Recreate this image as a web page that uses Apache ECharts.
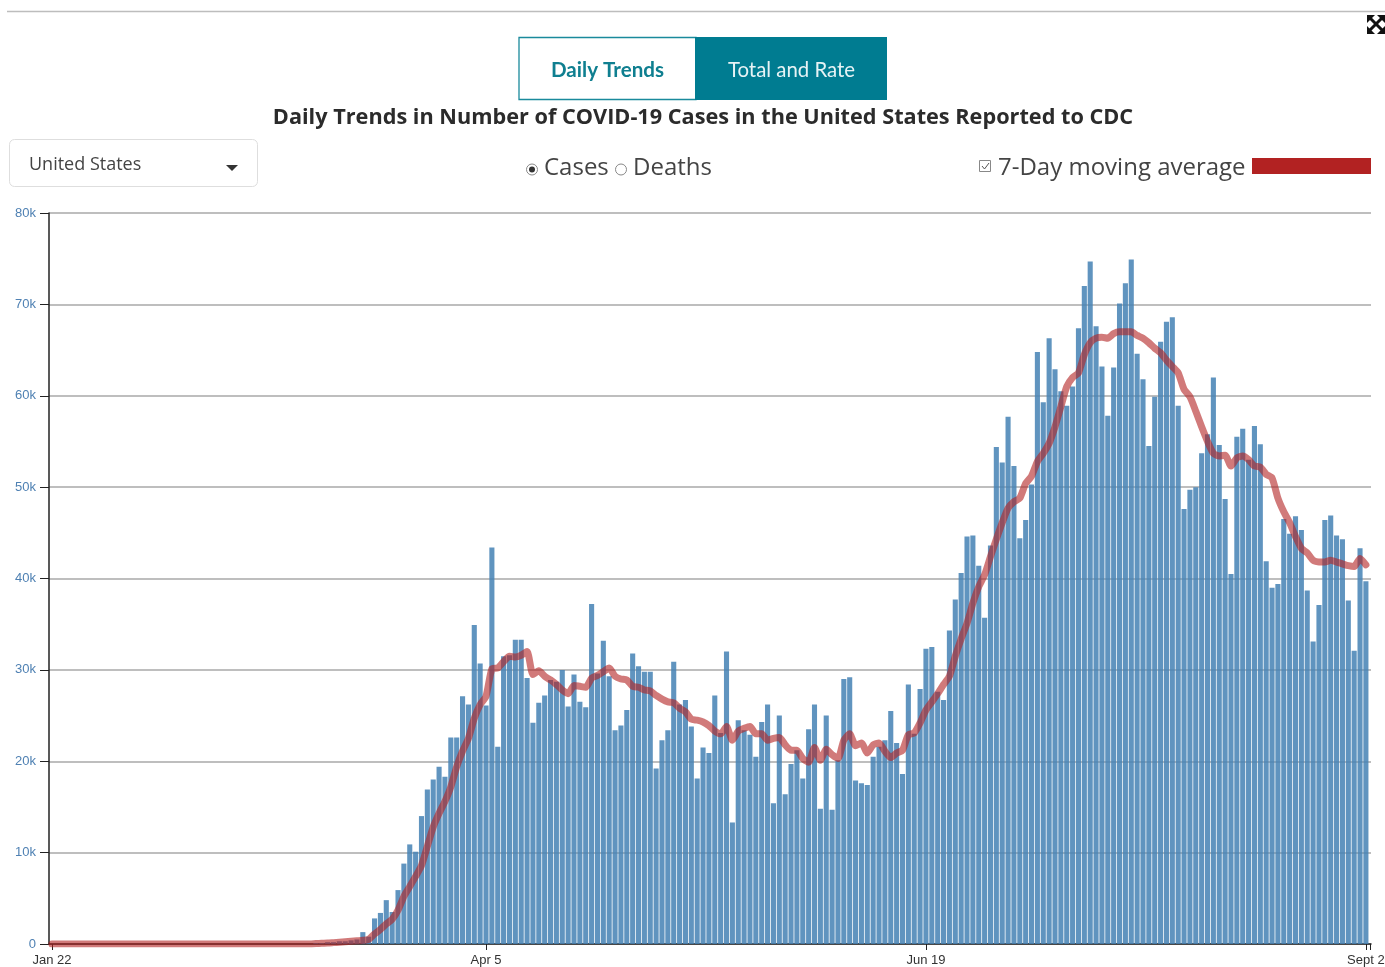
<!DOCTYPE html>
<html>
<head>
<meta charset="utf-8">
<title>Daily Trends in Number of COVID-19 Cases</title>
<style>html,body{margin:0;padding:0;background:#fff;overflow:hidden}#chart{width:1385px;height:967px}</style>
<script src="https://cdn.jsdelivr.net/npm/echarts@6/dist/echarts.min.js"></script>
</head>
<body>
<div id="chart"></div>
<script>
// Daily reported cases in thousands, Jan 22 (index 0) to Sept 2 (index 224)
const dailyEarly = [0,0,0,0,0,0,0,0,0,0, 0,0,0,0,0,0,0,0,0,0, 0,0,0,0,0,0,0,0,0,0, 0,0,0,0,0,0,0,0,0,0, 0,0,0,0,0,
  0.1,0.1,0.2,0.2,0.3,0.3,0.4,0.5];
const dailySpring = [1.3,0.8,2.8,3.4,4.8,3.5,5.9,8.8,10.9,10.1,14.0,16.9,18.0,19.4,18.3,22.6,22.6,27.1,26.2,34.9,
  30.7,26.1,43.4,21.6,31.5,31.6,33.3,33.3,29.1,24.2,26.4,27.2,28.9,28.7,30.0,26.0,29.5,26.5,25.9,37.2,
  29.6,33.2,29.3,23.4,23.9,25.6,31.8,30.4];
const dailyEarlySummer = [29.8,29.8,19.2,22.3,23.4,30.9,26.2,26.7,23.8,18.1,21.5,20.9,27.2,23.1,32.0,13.3,24.5,23.4,22.9,20.5,
  24.3,26.2,15.4,25.0,16.4,19.7,21.2,18.1,23.5,26.2,14.8,25.0,14.7,20.1,29.0,29.2,17.9,17.6,17.4,20.5,
  21.6,22.3,25.5,22.0,18.6,28.4,23.0,27.9,32.3,32.5,27.6,26.7];
const dailyPeak = [34.3,37.7,40.6,44.6,44.7,41.4,35.7,43.6,54.4,52.7,57.7,52.3,44.4,46.4,50.3,64.8,59.3,66.3,62.9,60.5,
  58.9,61.0,67.4,72.0,74.7,67.6,63.2,57.8,63.1,70.1,72.3,74.9];
const dailyLate = [64.6,61.8,54.5,59.9,65.9,68.1,68.6,58.9,47.6,49.7,50.0,53.7,55.8,62.0,54.6,48.7,40.5,55.5,56.4,53.0,
  56.7,54.7,41.9,39.0,39.4,46.5,44.9,46.8,45.3,38.7,33.1,37.1,46.4,46.9,44.7,44.3,37.6,32.1,43.3,39.7];
const dailyCases = [...dailyEarly, ...dailySpring, ...dailyEarlySummer, ...dailyPeak, ...dailyLate];

// 7-day moving average in thousands
const avgEarly = [0,0,0,0,0,0,0,0,0,0, 0,0,0,0,0,0,0,0,0,0, 0,0,0,0,0,0,0,0,0,0, 0,0,0,0,0,0,0,0,0,0, 0,0,0,0,0,
  0.05,0.08,0.1,0.15,0.2,0.25,0.3,0.35];
const avgSpring = [0.4,0.5,1.1,1.6,2.2,2.7,3.7,5.2,6.3,7.4,8.6,10.7,12.8,14.3,15.6,17.2,19.4,21.1,22.5,24.7,
  26.2,27.1,30.1,30.2,30.9,31.5,31.4,31.6,32.0,29.5,29.9,29.3,28.9,28.4,27.8,27.4,28.3,28.2,28.1,29.1,
  29.4,29.8,30.2,29.3,29.0,28.9,28.2,28.1];
const avgEarlySummer = [27.8,27.7,27.2,26.8,26.5,26.4,25.8,25.4,24.6,24.5,24.3,23.9,23.3,23.0,23.8,22.3,23.3,23.6,23.8,23.0,
  23.0,22.3,22.5,22.6,21.8,21.2,21.2,20.3,19.9,21.5,20.1,21.3,20.7,20.3,22.3,23.0,21.7,22.0,20.9,21.8,
  22.0,21.1,20.4,20.9,21.2,22.9,23.1,24.2,25.6,26.5,27.4,28.4];
const avgPeak = [29.3,31.5,33.4,35.1,37.3,39.1,40.4,42.4,44.3,46.1,47.7,48.4,48.8,50.4,51.2,52.8,53.7,54.8,56.6,58.8,
  61.0,62.0,62.5,64.5,65.8,66.3,66.4,66.3,66.8,67.0,67.0,67.0];
const avgLate = [66.6,66.3,65.8,65.2,64.7,63.9,63.2,62.5,60.7,59.9,58.3,56.6,55.0,53.7,53.4,53.5,52.3,53.2,53.4,53.0,
  52.3,52.2,51.4,51.0,48.8,47.3,46.1,44.6,43.3,42.8,42.0,41.8,41.8,42.0,41.8,41.6,41.4,41.3,42.2,41.5];
const movingAverage = [...avgEarly, ...avgSpring, ...avgEarlySummer, ...avgPeak, ...avgLate];

// Tick labels on the day axis
const xTickDays = [0, 74, 149, 224];
const xTickLabels = ['Jan 22', 'Apr 5', 'Jun 19', 'Sept 2'];

const chartTitle = 'Daily Trends in Number of COVID-19 Cases in the United States Reported to CDC';
const teal = '#007c91';
const uiFont = '"Open Sans", sans-serif';

function label(text, x, y, size, fill, family, weight, align) {
  return { type: 'text', x, y, silent: true, z: 10,
    style: { text, fontSize: size, fontFamily: family || uiFont, fontWeight: weight || 'normal',
      fill, align: align || 'left', verticalAlign: 'middle' } };
}
function bar(x1, y1, x2, y2, w) {
  return { type: 'line', silent: true, z: 10, shape: { x1, y1, x2, y2 },
    style: { stroke: '#111', lineWidth: w } };
}

const chart = echarts.init(document.getElementById('chart'), null, { renderer: 'canvas' });
chart.setOption({
  animation: false,
  backgroundColor: '#fff',
  title: {
    text: chartTitle, left: 703, top: 107, textAlign: 'center', padding: 0,
    textStyle: { fontFamily: uiFont, fontSize: 21.7, fontWeight: 'bold', color: '#2b2b2b' }
  },
  grid: { left: 49, right: 14, top: 213, bottom: 23, containLabel: false, outerBoundsMode: 'none' },
  xAxis: {
    type: 'value', min: -0.5, max: 224.87, containShape: false, splitLine: { show: false },
    axisLine: { show: true, onZero: false, lineStyle: { color: '#222', width: 1.5 } },
    axisTick: { show: true, length: 6, customValues: [...xTickDays, 224.7], lineStyle: { color: '#222', width: 1 } },
    axisLabel: {
      show: true, customValues: xTickDays, margin: 10, hideOverlap: false,
      color: '#333', fontFamily: '"Liberation Sans", Arial, sans-serif', fontSize: 13,
      formatter: v => xTickLabels[xTickDays.indexOf(v)]
    }
  },
  yAxis: {
    type: 'value', min: 0, max: 80, interval: 10,
    axisLine: { show: true, onZero: false, lineStyle: { color: '#222', width: 1.5 } },
    axisTick: { show: true, length: 9, lineStyle: { color: '#222', width: 1 } },
    axisLabel: { margin: 13, color: '#4f81b3', fontFamily: '"Liberation Sans", Arial, sans-serif', fontSize: 13,
      formatter: v => v === 0 ? '0' : v + 'k' },
    splitLine: { show: true, lineStyle: { color: '#a8a8a8', width: 1.5 } }
  },
  series: [
    { name: 'Cases', type: 'bar', barWidth: 5.1,
      data: dailyCases.map((v, i) => [i, v]),
      itemStyle: { color: 'rgba(70,130,180,0.86)' } },
    { name: '7-Day moving average', type: 'line', symbol: 'none', smooth: 0.2,
      data: movingAverage.map((v, i) => [i, v]),
      lineStyle: { color: 'rgba(178,34,34,0.6)', width: 7, join: 'round', cap: 'round' }, z: 5 }
  ],
  graphic: [
    // rule at the top
    { type: 'line', silent: true, shape: { x1: 7, y1: 11.5, x2: 1385, y2: 11.5 }, style: { stroke: '#bdbdbd', lineWidth: 1.5 } },
    // expand icon
    bar(1370, 18, 1382, 30, 3), bar(1382, 18, 1370, 30, 3),
    { type: 'polygon', silent: true, shape: { points: [[1367, 15], [1375, 15], [1367, 23]] }, style: { fill: '#111' } },
    { type: 'polygon', silent: true, shape: { points: [[1385, 15], [1377, 15], [1385, 23]] }, style: { fill: '#111' } },
    { type: 'polygon', silent: true, shape: { points: [[1367, 34], [1375, 34], [1367, 26]] }, style: { fill: '#111' } },
    { type: 'polygon', silent: true, shape: { points: [[1385, 34], [1377, 34], [1385, 26]] }, style: { fill: '#111' } },
    // toggle buttons
    { type: 'rect', silent: true, shape: { x: 519, y: 37.5, width: 177, height: 62 }, style: { fill: '#fff', stroke: '#1a8a9c', lineWidth: 1.3 } },
    { type: 'rect', silent: true, shape: { x: 695, y: 37, width: 192, height: 63 }, style: { fill: teal } },
    label('Daily Trends', 607.5, 70, 20.6, '#0f7f90', 'Lato', 'bold', 'center'),
    label('Total and Rate', 791.5, 70, 20.4, '#e6f3f5', 'Lato', 'normal', 'center'),
    // country dropdown
    { type: 'rect', silent: true, shape: { x: 9.5, y: 139.5, width: 248, height: 47, r: 5 }, style: { fill: '#fff', stroke: '#dedede', lineWidth: 1 } },
    label('United States', 29, 165, 18, '#444'),
    { type: 'polygon', silent: true, shape: { points: [[226, 165], [238, 165], [232, 171]] }, style: { fill: '#333' } },
    // radio group
    { type: 'circle', silent: true, shape: { cx: 532, cy: 169.5, r: 5.5 }, style: { fill: '#fff', stroke: '#888', lineWidth: 1 } },
    { type: 'circle', silent: true, shape: { cx: 532, cy: 169.5, r: 3 }, style: { fill: '#333' } },
    label('Cases', 544, 168, 24, '#444'),
    { type: 'circle', silent: true, shape: { cx: 621, cy: 169.5, r: 5.5 }, style: { fill: '#fff', stroke: '#888', lineWidth: 1 } },
    label('Deaths', 633, 168, 24, '#444'),
    // moving-average toggle and key
    { type: 'rect', silent: true, shape: { x: 979.5, y: 160.5, width: 11, height: 11 }, style: { fill: '#fff', stroke: '#888', lineWidth: 1 } },
    { type: 'polyline', silent: true, shape: { points: [[982, 166], [984.5, 169], [989, 163]] }, style: { stroke: '#555', lineWidth: 1, fill: null } },
    label('7-Day moving average', 998, 168, 24, '#444'),
    { type: 'rect', silent: true, shape: { x: 1252, y: 158, width: 119, height: 16 }, style: { fill: '#b22222' } }
  ]
});
</script>
</body>
</html>
